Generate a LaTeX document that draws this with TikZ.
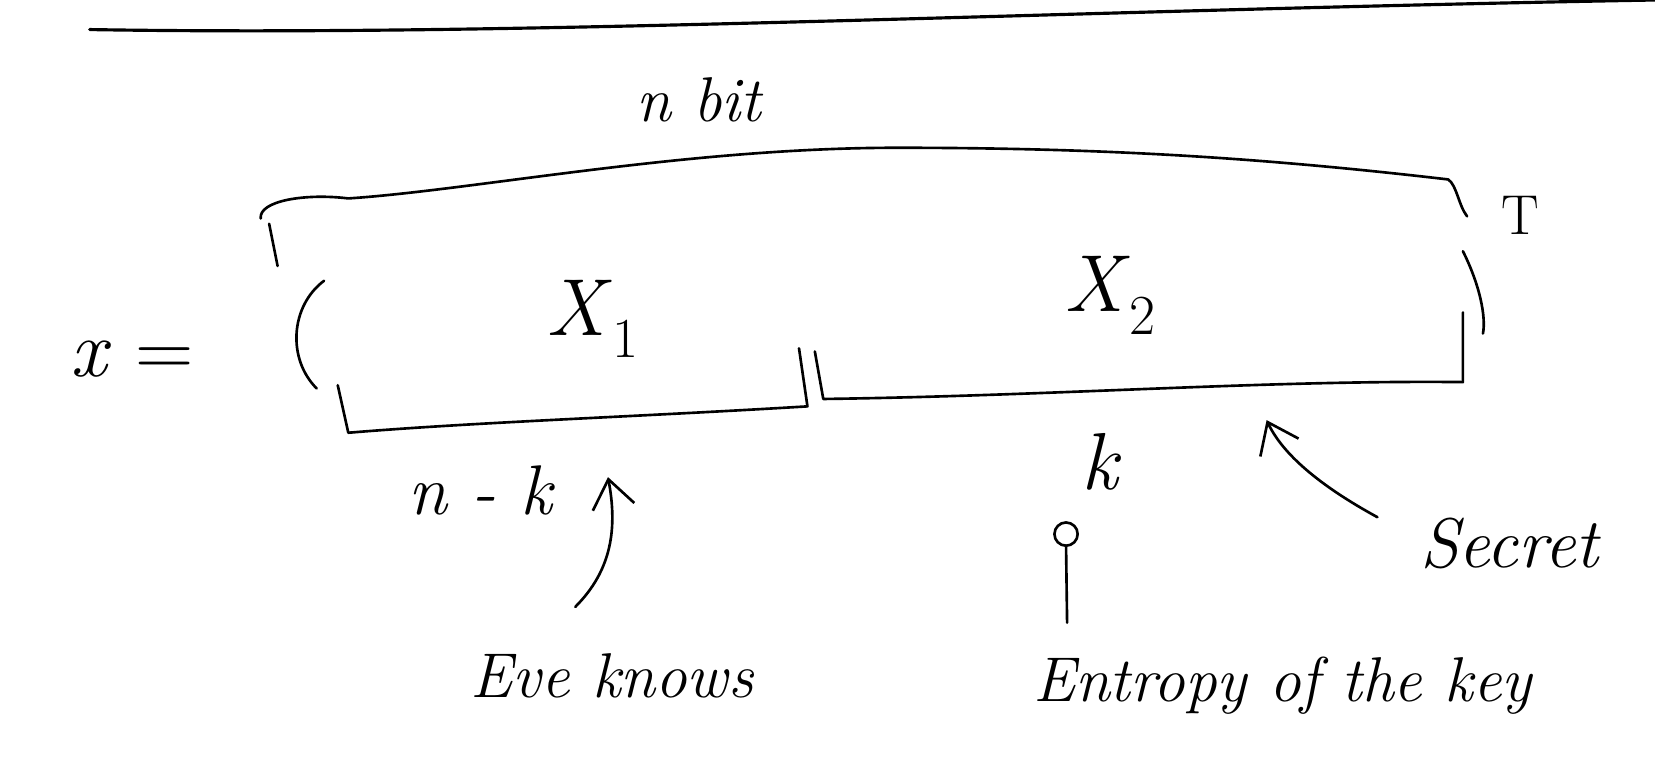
\documentclass[tikz,border=0pt]{standalone}
\usepackage{tikz}
\usetikzlibrary{arrows.meta}
\begin{document}
\begin{tikzpicture}[x=0.02111cm,y=-0.02111cm,
  ink/.style={line width=1.5pt,line cap=round,line join=round,black},
  lbl/.style={inner sep=0pt,font=\fontsize{36}{40}\selectfont\itshape},
  mth/.style={inner sep=0pt,font=\fontsize{46}{50}\selectfont},
  arr/.style={ink,-{Straight Barb[length=16pt,width=24pt,line width=1.5pt]}}]
\useasboundingbox (0,0) rectangle (1568,740);
% top rule
\draw[ink,line width=1.8pt] (85,28) .. controls (500,35) and (1000,10) .. (1568,0);
% n bit
\node[lbl] (nbit) at (662,95) {n bit};
% top brace
\draw[ink] (255,212) -- (263,252);
\draw[ink] (247,207) .. controls (245,190) and (290,183) .. (330,188)
  .. controls (450,180) and (650,140) .. (850,140)
  .. controls (1050,140) and (1200,150) .. (1372,170)
  .. controls (1380,175) and (1382,195) .. (1390,205);
% T
\node[mth,font=\fontsize{32}{36}\selectfont] (T) at (1440,204) {T};
% x =
\node[mth] (xeq) at (125,340) {\textit{x} =};
% parentheses
\draw[ink] (307,266) .. controls (275,290) and (272,340) .. (300,368);
\draw[ink] (1386,238) .. controls (1402,270) and (1408,300) .. (1405,316);
% labels inside
\node[mth] (x1) at (562,302) {\textit{X}\textsubscript{1}};
\node[mth] (x2) at (1052,280) {\textit{X}\textsubscript{2}};
% bottom brace left
\draw[ink] (320,365) -- (330,410) .. controls (450,400) and (600,395) .. (765,385) -- (757,330);
% bottom brace right
\draw[ink] (772,333) -- (780,378) .. controls (1000,375) and (1200,360) .. (1386,362) -- (1386,296);
% n - k
\node[lbl,font=\fontsize{40}{44}\selectfont\itshape] (nk) at (455,465) {n - k};
\node[lbl,font=\fontsize{46}{50}\selectfont\itshape] (k) at (1042,438) {k};
% Eve knows
\node[lbl] (eve) at (580,640) {Eve knows};
\coordinate (evetip) at (576,452);
\draw[arr] (545,575) .. controls (580,540) and (585,500) .. (evetip);
% Entropy
\node[lbl] (ent) at (1215,650) {Entropy of the key};
\coordinate (lolly) at (1010,506);
\draw[ink] (lolly) circle (11);
\draw[ink] (1010,517) -- (1011,590);
% Secret
\node[lbl,font=\fontsize{40}{44}\selectfont\itshape] (sec) at (1430,515) {Secret};
\coordinate (sectip) at (1200,398);
\draw[arr] (1305,490) .. controls (1250,460) and (1215,430) .. (sectip);
\end{tikzpicture}
\end{document}
